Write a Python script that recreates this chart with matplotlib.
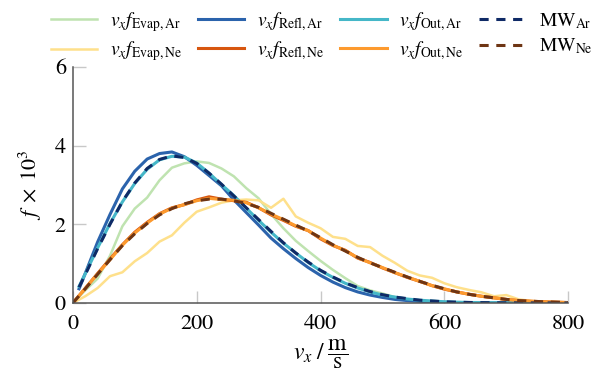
import numpy as np
import matplotlib
matplotlib.use("Agg")
import matplotlib.pyplot as plt

plt.rcParams['font.family'] = ['STIXGeneral', 'DejaVu Serif']
plt.rcParams['mathtext.fontset'] = 'stix'

# velocity grids in m/s
v = np.arange(0, 801, 20)
v_ar = np.concatenate(([10], np.arange(20, 801, 20)))

# f x 10^3
evap_ar = [0.0, 0.32, 0.62, 1.20, 1.95, 2.40, 2.68, 3.12, 3.44, 3.55,
           3.60, 3.56, 3.42, 3.22, 2.92, 2.66, 2.26, 1.90, 1.58, 1.32,
           1.07, 0.84, 0.63, 0.43, 0.32, 0.24, 0.15, 0.09, 0.05, 0.03,
           0.02, 0.01, 0.005, 0.003, 0.001, 0.0, 0.0, 0.0, 0.0, 0.0, 0.0]
evap_ne = [0.0, 0.17, 0.38, 0.68, 0.78, 1.06, 1.27, 1.56, 1.72, 2.04,
           2.32, 2.43, 2.55, 2.61, 2.63, 2.61, 2.42, 2.65, 2.20, 2.04,
           1.90, 1.68, 1.63, 1.45, 1.42, 1.20, 1.02, 0.82, 0.70, 0.64,
           0.50, 0.40, 0.33, 0.27, 0.17, 0.20, 0.09, 0.05, 0.03, 0.01, 0.0]
refl_ar = [0.36, 0.75, 1.55, 2.25, 2.90, 3.35, 3.66, 3.80, 3.84, 3.72,
           3.50, 3.24, 2.98, 2.62, 2.30, 1.98, 1.65, 1.38, 1.13, 0.90,
           0.70, 0.53, 0.39, 0.28, 0.20, 0.14, 0.09, 0.06, 0.04, 0.025,
           0.015, 0.01, 0.006, 0.004, 0.002, 0.001, 0.001, 0.0, 0.0, 0.0, 0.0]
refl_ne = [0.0, 0.37, 0.75, 1.12, 1.48, 1.80, 2.05, 2.27, 2.42, 2.50,
           2.62, 2.70, 2.64, 2.60, 2.56, 2.42, 2.24, 2.10, 1.95, 1.84,
           1.63, 1.46, 1.34, 1.14, 1.03, 0.89, 0.77, 0.65, 0.55, 0.44,
           0.35, 0.28, 0.22, 0.17, 0.13, 0.09, 0.06, 0.04, 0.03, 0.02, 0.01]
out_ar = [0.42, 0.74, 1.40, 2.02, 2.57, 3.04, 3.40, 3.64, 3.73, 3.71,
          3.56, 3.30, 3.01, 2.73, 2.41, 2.10, 1.80, 1.52, 1.27, 1.03,
          0.82, 0.65, 0.50, 0.38, 0.28, 0.20, 0.15, 0.10, 0.07, 0.05,
          0.03, 0.02, 0.012, 0.008, 0.005, 0.003, 0.002, 0.001, 0.001, 0.0, 0.0]
out_ne = [0.0, 0.37, 0.74, 1.10, 1.47, 1.78, 2.03, 2.26, 2.41, 2.50,
          2.60, 2.66, 2.63, 2.61, 2.55, 2.42, 2.26, 2.12, 1.96, 1.84,
          1.65, 1.47, 1.33, 1.15, 1.02, 0.90, 0.77, 0.66, 0.55, 0.44,
          0.36, 0.28, 0.22, 0.17, 0.13, 0.09, 0.06, 0.045, 0.03, 0.02, 0.01]
mw_ar = [0.40, 0.72, 1.38, 2.00, 2.58, 3.05, 3.42, 3.65, 3.74, 3.70,
         3.55, 3.30, 3.02, 2.72, 2.42, 2.12, 1.82, 1.53, 1.27, 1.04,
         0.83, 0.66, 0.51, 0.39, 0.29, 0.21, 0.15, 0.11, 0.07, 0.05,
         0.03, 0.02, 0.012, 0.008, 0.005, 0.003, 0.002, 0.001, 0.001, 0.0, 0.0]
mw_ne = [0.0, 0.36, 0.73, 1.10, 1.46, 1.76, 2.02, 2.24, 2.40, 2.52,
         2.60, 2.64, 2.64, 2.60, 2.53, 2.43, 2.28, 2.13, 1.98, 1.83,
         1.66, 1.48, 1.32, 1.16, 1.02, 0.90, 0.78, 0.66, 0.55, 0.45,
         0.36, 0.28, 0.22, 0.17, 0.13, 0.09, 0.06, 0.045, 0.03, 0.02, 0.01]

fig = plt.figure(figsize=(6.02, 3.83), dpi=100)
ax = fig.add_axes([0.121, 0.209, 0.823, 0.616])

ax.plot(v, evap_ar, color='#bfe3b0', lw=1.8, label=r'$v_x f_{\mathrm{Evap,Ar}}$')
ax.plot(v, evap_ne, color='#fee08b', lw=1.8, label=r'$v_x f_{\mathrm{Evap,Ne}}$')
ax.plot(v_ar, refl_ar, color='#2b63ac', lw=2.2, label=r'$v_x f_{\mathrm{Refl,Ar}}$')
ax.plot(v, refl_ne, color='#d7560f', lw=2.2, label=r'$v_x f_{\mathrm{Refl,Ne}}$')
ax.plot(v_ar, out_ar, color='#45b7c8', lw=2.2, label=r'$v_x f_{\mathrm{Out,Ar}}$')
ax.plot(v, out_ne, color='#fd9a2e', lw=2.2, label=r'$v_x f_{\mathrm{Out,Ne}}$')
ax.plot(v_ar, mw_ar, color='#0f2a66', lw=2.2, ls=(0, (3, 2.5)), label=r'$\mathrm{MW}_{\mathrm{Ar}}$')
ax.plot(v, mw_ne, color='#6e3514', lw=2.2, ls=(0, (3, 2.5)), label=r'$\mathrm{MW}_{\mathrm{Ne}}$')

ax.set_xlim(0, 800)
ax.set_ylim(0, 6)
ax.set_xticks([0, 200, 400, 600, 800])
ax.set_yticks([0, 2, 4, 6])
for s in ['top', 'right']:
    ax.spines[s].set_visible(False)
for s in ['left', 'bottom']:
    ax.spines[s].set_color('#555555')
    ax.spines[s].set_linewidth(1.1)
ax.tick_params(direction='in', length=9, width=1.0, color='#c8c8c8',
               labelsize=16)
ax.tick_params(axis='x', pad=8)
ax.tick_params(axis='y', pad=5)
ax.set_xlabel(r'$v_x\;/\;\dfrac{\mathrm{m}}{\mathrm{s}}$', fontsize=17, labelpad=2)
ax.set_ylabel(r'$f\;\times\;10^3$', fontsize=16, labelpad=8)

fig.legend(loc='upper left', bbox_to_anchor=(0.055, 1.02), ncol=4,
           frameon=False, fontsize=14, handlelength=2.4,
           columnspacing=0.8, handletextpad=0.65, labelspacing=0.3)

fig.savefig('out.png', dpi=100)
